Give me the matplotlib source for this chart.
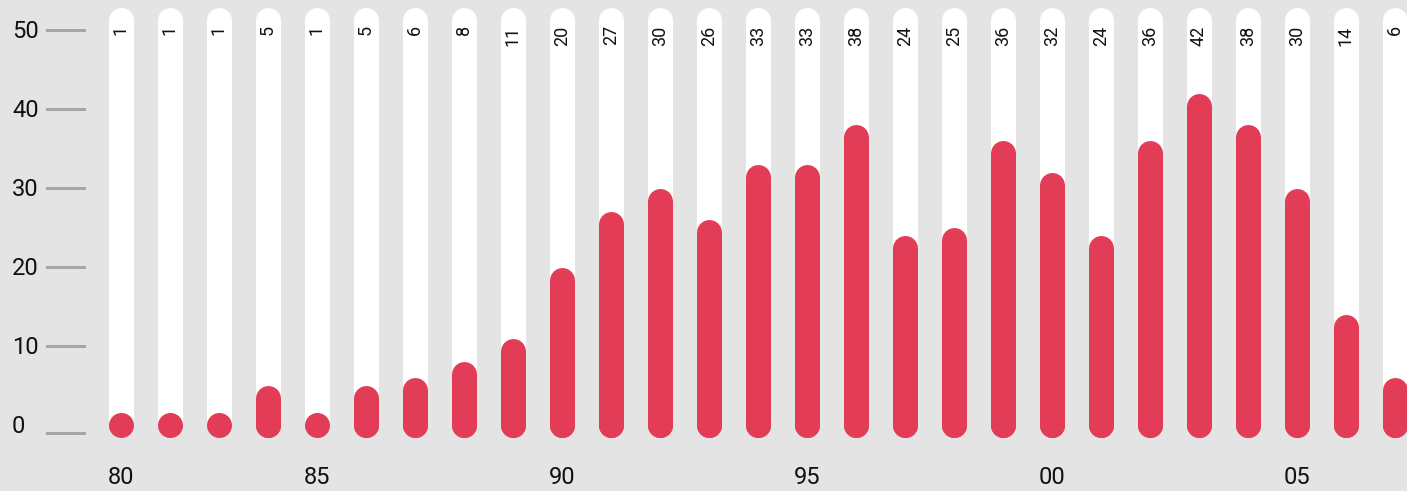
import matplotlib.pyplot as plt
import numpy as np

values = [1, 1, 1, 5, 1, 5, 6, 8, 11, 20, 27, 30, 26, 33, 33, 38, 24, 25, 36, 32, 24, 36, 42, 38, 30, 14, 6]
year_pos = [0, 4, 9, 14, 19, 24]
year_labels = ['80', '85', '90', '95', '00', '05']
y_ticks = [0, 10, 20, 30, 40, 50]

red = '#e23c57'
bg = '#e4e4e4'
lw = 18  # points, about 25 px wide at dpi 100
cap = 12.5 / 7.9  # round cap radius in data units

fig = plt.figure(figsize=(14.07, 4.91), dpi=100, facecolor=bg)
ax = fig.add_axes([0, 0, 1, 1])
ax.set_facecolor(bg)
ax.set_xlim(-2.469, 26.245)
ax.set_ylim(-8.35, 53.8)
ax.axis('off')

x = np.arange(len(values))
for i, v in zip(x, values):
    # white track
    ax.plot([i, i], [0.5, 52.9 - cap], color='white', lw=lw, solid_capstyle='round', zorder=1)
    # red bar, cap top ends at the value
    top = max(v - cap, 0)
    ax.plot([i, i], [0, top], color=red, lw=lw, solid_capstyle='round', zorder=2)
    ax.plot(i, 0, 'o', color=red, ms=lw, mew=0, zorder=2)
    ax.text(i, 50.6, str(v), rotation=90, ha='center', va='top',
            fontsize=13, family='Roboto', color='#111111', zorder=3)

# y axis ticks (the 0 line sits a little low in the original)
for t in y_ticks:
    yl = t - 1.0 if t == 0 else t
    ax.plot([-1.515, -0.76], [yl, yl], color='#a6a6a6', lw=2.2, zorder=1)
    ax.text(-2.225, t - 0.15, str(t), ha='left', va='center',
            fontsize=17, family='Roboto', color='#111111')

for p, lab in zip(year_pos, year_labels):
    ax.text(p, -6.58, lab, ha='center', va='center',
            fontsize=17, family='Roboto', color='#111111')

fig.savefig('out.png', dpi=100, facecolor=bg)
